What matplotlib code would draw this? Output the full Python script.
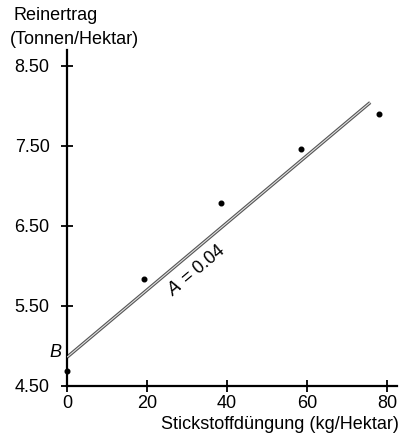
import numpy as np
import matplotlib
matplotlib.use("Agg")
import matplotlib.pyplot as plt

plt.rcParams['font.family'] = ['Liberation Sans', 'DejaVu Sans']

# Punkte (Stickstoff kg/ha, Reinertrag t/ha)
stickstoff = [0, 19.3, 38.5, 58.5, 78]
ertrag = [4.69, 5.84, 6.79, 7.46, 7.90]

# Regressionsgerade y = B + A*x
B = 4.86
A = 0.042
line_x = [0, 75.8]

xticks = [0, 20, 40, 60, 80]
xtick_labels = ['0', '20', '40', '60', '80']
yticks = [4.5, 5.5, 6.5, 7.5, 8.5]
ytick_labels = ['4.50', '5.50', '6.50', '7.50', '8.50']

fig = plt.figure(figsize=(4.01, 4.33), dpi=100)
ax = fig.add_axes([67/401, 1 - 386/433, 330/401, 336/433])

lx = np.array(line_x)
ly = B + A * lx
ax.plot(lx, ly, color='#555555', lw=2.4, solid_capstyle='butt', zorder=2)
ax.plot(lx, ly, color='#e0e0e0', lw=0.8, solid_capstyle='butt', zorder=3)

ax.scatter(stickstoff, ertrag, s=11, color='black', zorder=4, clip_on=False)

ax.set_xlim(0, 82.5)
ax.set_ylim(4.5, 8.7)

for s in ['top', 'right']:
    ax.spines[s].set_visible(False)
for s in ['left', 'bottom']:
    ax.spines[s].set_linewidth(1.6)

ax.set_xticks(xticks)
ax.set_xticklabels(xtick_labels)
ax.set_yticks(yticks)
ax.set_yticklabels(ytick_labels)
ax.tick_params(direction='inout', length=9, width=1.3, labelsize=13)
ax.tick_params(axis='y', pad=8)
ax.tick_params(axis='x', pad=2)

ax.text(-1.5, B + 0.06, 'B', ha='right', va='center', fontsize=13, style='italic')
ax.text(32.5, 5.95, r'$A$ = 0.04', rotation=40, ha='center', va='center', fontsize=13,
        rotation_mode='anchor')

fig.text(14/401, 1 - 16/433, 'Reinertrag', ha='left', va='center', fontsize=13)
fig.text(10/401, 1 - 39/433, '(Tonnen/Hektar)', ha='left', va='center', fontsize=13)
fig.text(399/401, 1 - 429/433, 'Stickstoffdüngung (kg/Hektar)', ha='right', va='baseline',
         fontsize=13)

fig.savefig('out.png', dpi=100)
